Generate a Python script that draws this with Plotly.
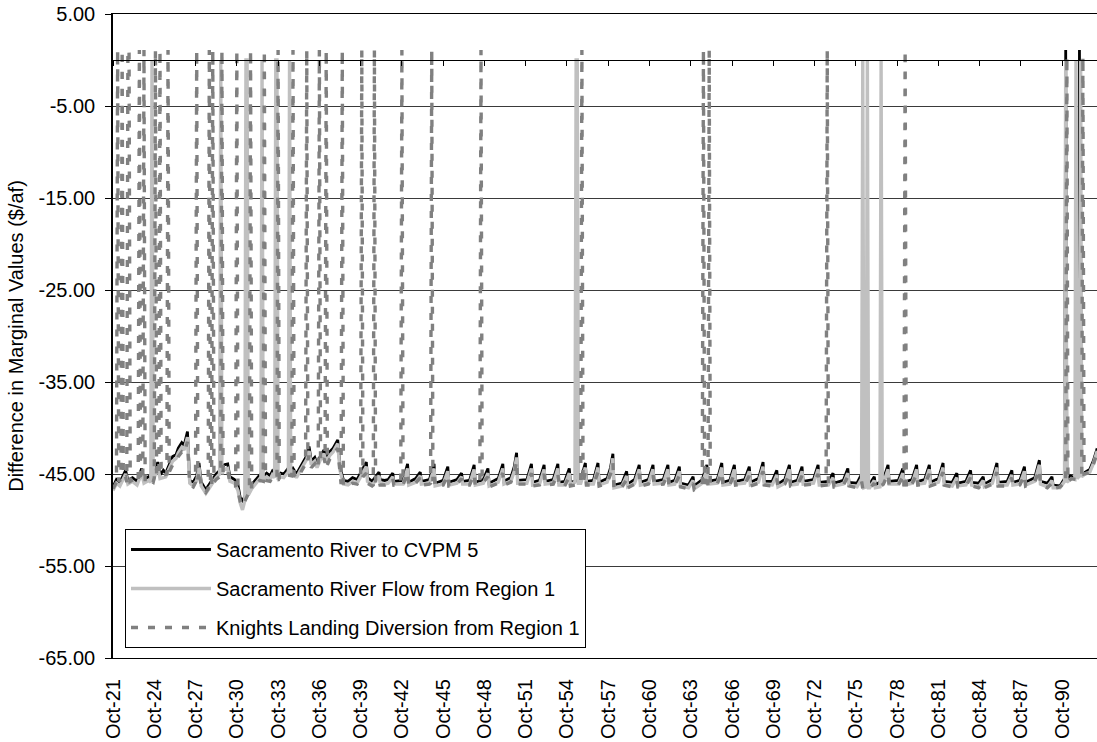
import plotly.graph_objects as go

# ---------------- data (month index from Oct-1921, value in $/af) ----------------
SERIES_NAMES = [
    "Sacramento River to CVPM 5",
    "Sacramento River Flow from Region 1",
    "Knights Landing Diversion from Region 1",
]

BLACK = [
    (0, -46.4), (3, -45.6), (6, -45.9), (9, -45.2), (11, -44.6), (13, -45.7), (17, -45.4), (21, -45.8),
    (24, -44.9), (25, -44.4), (27, -45.6), (31, -45.3), (35, -45.7), (37, -44.8), (39, -43.7), (41, -45.1),
    (44, -44.6), (46, -44.9), (49, -44.0), (52, -43.1), (55, -42.9), (57, -42.2), (60, -41.6), (62, -41.9),
    (65, -40.4), (67, -45.7), (70, -45.9), (73, -45.2), (75, -43.8), (77, -45.9), (81, -46.7), (84, -46.1),
    (87, -45.5), (90, -45.0), (94, -44.5), (97, -44.0), (100, -43.9), (102, -45.3), (106, -45.6), (109, -46.2),
    (111, -47.6), (113, -47.9), (116, -47.2), (119, -46.5), (122, -46.0), (125, -45.6), (128, -45.1),
    (131, -45.3), (134, -44.9), (137, -45.2), (139, -44.7), (142, -45.2), (146, -44.9), (149, -45.0),
    (152, -44.5), (155, -44.8), (157, -44.4), (160, -45.0), (163, -44.3), (166, -43.6), (169, -43.0),
    (171, -42.0), (173, -43.6), (176, -43.2), (178, -43.9), (181, -43.0), (184, -42.4), (186, -43.3),
    (189, -42.6), (192, -42.2), (194, -41.7), (196, -41.3), (198, -44.2), (201, -45.7), (205, -45.8),
    (209, -45.4), (213, -45.6), (217, -44.6), (219, -44.2), (221, -43.7), (222, -45.4), (226, -45.8),
    (229, -45.3), (232, -44.8), (233, -45.6), (237, -45.7),
    (240, -45.6), (244, -44.9), (245, -45.8), (253, -45.7), (257, -43.9), (258, -45.9),
    (264, -45.5), (268, -44.8), (269, -45.8), (276, -45.6), (280, -43.9), (281, -46.0),
    (288, -45.7), (292, -44.2), (293, -45.9), (300, -45.6), (304, -44.9), (305, -45.8),
    (311, -45.7), (315, -44.0), (316, -45.9), (323, -45.6), (327, -44.4), (328, -46.0),
    (336, -45.5), (340, -43.9), (341, -45.8), (347, -45.4), (350, -44.2), (352, -42.7), (353, -45.7),
    (361, -45.6), (365, -43.9), (366, -45.9), (372, -45.7), (376, -44.0), (377, -45.8),
    (384, -45.6), (388, -43.9), (389, -45.9), (394, -45.8), (398, -44.4), (399, -45.9),
    (408, -45.6), (412, -43.8), (413, -45.8), (419, -45.7), (423, -43.8), (424, -45.9),
    (431, -45.5), (434, -44.3), (436, -42.8), (437, -46.2), (444, -46.0), (448, -44.7), (449, -46.1),
    (455, -45.6), (459, -44.0), (460, -45.9), (467, -45.6), (471, -44.0), (472, -45.8),
    (480, -45.6), (484, -44.0), (485, -45.9), (490, -45.7), (494, -44.2), (495, -46.0),
    (502, -46.2), (506, -45.3), (507, -46.3), (514, -45.6), (518, -44.0), (519, -45.8),
    (527, -45.6), (531, -43.8), (532, -45.9), (538, -45.7), (542, -44.0), (543, -45.8),
    (551, -45.6), (555, -44.2), (556, -45.9), (563, -45.5), (567, -43.7), (568, -45.8),
    (575, -45.8), (579, -44.6), (580, -46.1), (586, -45.6), (590, -44.0), (591, -45.9),
    (597, -45.7), (601, -44.2), (602, -45.8), (611, -45.6), (615, -44.0), (616, -45.9),
    (624, -45.8), (628, -44.9), (629, -46.0), (637, -45.7), (641, -44.4), (642, -45.9),
    (649, -46.0), (653, -45.0), (654, -46.3), (660, -46.1), (664, -45.3), (665, -46.2),
    (672, -45.6), (676, -44.0), (677, -45.8), (685, -45.7), (689, -44.4), (690, -45.9),
    (697, -45.6), (701, -44.0), (702, -45.8), (708, -45.6), (712, -44.0), (713, -45.9),
    (720, -45.5), (724, -43.8), (725, -45.8), (732, -45.9), (736, -44.9), (737, -46.0),
    (744, -45.8), (748, -44.6), (749, -45.9), (755, -46.0), (759, -45.3), (760, -46.1),
    (767, -45.6), (771, -43.8), (772, -45.9), (780, -45.8), (784, -44.6), (785, -45.9),
    (791, -45.7), (795, -44.2), (796, -45.9), (804, -45.4), (808, -43.5), (809, -45.8),
    (815, -46.0), (819, -45.3), (820, -46.2), (826, -46.3), (830, -45.5), (831, 1.1), (832, -45.6),
    (835, -45.2), (839, -45.4), (842, -45.0), (843, 1.1), (844, -45.2), (848, -44.8),
    (852, -44.5), (855, -43.6), (858, -42.4), (862, -42.8),
]

GRAY = [
    (0, -46.8), (3, -46.0), (6, -46.3), (9, -45.6), (11, -45.0), (13, -46.1), (17, -45.8), (21, -46.2),
    (25, -44.9), (27, -46.0), (31, -45.7), (33, -45.9), (34, 0.0), (35, -45.8), (39, -44.2), (41, -45.5),
    (46, -45.3), (49, -44.4), (52, -43.6), (55, -43.3), (57, -42.7), (60, -42.1), (62, -42.4), (65, -41.0),
    (67, -46.0), (70, -46.3), (73, -45.7), (75, -44.3), (77, -46.3), (81, -47.1), (84, -46.5), (87, -45.9),
    (90, -45.4), (93, -45.0), (94, 0.0), (95, -45.0), (97, -44.5), (100, -44.4), (102, -45.8), (106, -46.0),
    (109, -46.8), (111, -48.2), (113, -48.9), (115, -47.9), (116, 0.0), (117, 0.0), (118, -47.3),
    (121, -46.6), (125, -46.0), (128, -45.5), (129, -45.6), (130, 0.0), (131, -45.7), (134, -45.3),
    (137, -45.6), (139, -45.1), (141, -45.4), (142, 0.0), (143, 0.0), (144, -45.4), (146, -45.3),
    (149, -45.4), (152, -44.9), (153, -45.0), (154, 0.0), (155, -45.2), (157, -44.8), (160, -45.4),
    (163, -44.7), (166, -44.0), (169, -43.4), (171, -42.5), (173, -44.0), (176, -43.6), (178, -44.3),
    (181, -43.4), (184, -42.8), (186, -43.7), (189, -43.0), (192, -42.6), (194, -42.1), (196, -41.7),
    (198, -44.6), (201, -46.1), (205, -46.2), (209, -45.8), (213, -46.0), (217, -45.0), (219, -44.6),
    (221, -44.2), (222, -45.8), (226, -46.2), (229, -45.7), (232, -45.2), (233, -46.0), (237, -46.1),
    (240, -46.0), (244, -45.3), (245, -46.1), (253, -46.1), (257, -44.4), (258, -46.2),
    (264, -45.9), (268, -45.2), (269, -46.1), (276, -46.0), (280, -44.4), (281, -46.3),
    (288, -46.1), (292, -44.7), (293, -46.2), (300, -46.0), (304, -45.3), (305, -46.1),
    (311, -46.1), (315, -44.5), (316, -46.2), (323, -46.0), (327, -44.9), (328, -46.3),
    (336, -45.9), (340, -44.4), (341, -46.1), (347, -45.8), (350, -44.7), (352, -43.2), (353, -46.0),
    (361, -46.0), (365, -44.4), (366, -46.2), (372, -46.1), (376, -44.5), (377, -46.1),
    (384, -46.0), (388, -44.4), (389, -46.2), (394, -46.2), (398, -44.9), (399, -46.2),
    (403, -45.9), (404, 0.0), (405, 0.0), (406, -46.0),
    (408, -46.0), (412, -44.3), (413, -46.1), (419, -46.1), (423, -44.3), (424, -46.2),
    (431, -45.9), (434, -44.8), (436, -43.3), (437, -46.5), (444, -46.3), (448, -45.2), (449, -46.4),
    (455, -46.0), (459, -44.5), (460, -46.2), (467, -46.0), (471, -44.5), (472, -46.1),
    (480, -46.0), (484, -44.5), (485, -46.2), (490, -46.1), (494, -44.7), (495, -46.3),
    (502, -46.5), (506, -45.7), (507, -46.6), (514, -46.0), (518, -44.5), (519, -46.1),
    (527, -46.0), (531, -44.3), (532, -46.2), (538, -46.1), (542, -44.5), (543, -46.1),
    (551, -46.0), (555, -44.7), (556, -46.2), (563, -45.9), (567, -44.2), (568, -46.1),
    (575, -46.2), (579, -45.1), (580, -46.4), (586, -46.0), (590, -44.5), (591, -46.2),
    (597, -46.1), (601, -44.7), (602, -46.1), (611, -46.0), (615, -44.5), (616, -46.2),
    (624, -46.2), (628, -45.4), (629, -46.3), (637, -46.1), (641, -44.9), (642, -46.2),
    (649, -46.4), (653, -45.5), (654, 0.0), (655, -46.5), (657, -46.4), (658, 0.0), (659, -46.5),
    (660, -46.5), (664, -45.7), (665, -46.5), (669, -46.4), (670, 0.0), (671, -46.3),
    (672, -46.0), (676, -44.5), (677, -46.1), (685, -46.1), (689, -44.9), (690, -46.2),
    (697, -46.0), (701, -44.5), (702, -46.1), (708, -46.0), (712, -44.5), (713, -46.2),
    (720, -45.9), (724, -44.3), (725, -46.1), (732, -46.3), (736, -45.4), (737, -46.3),
    (744, -46.2), (748, -45.1), (749, -46.2), (755, -46.4), (759, -45.7), (760, -46.4),
    (767, -46.0), (771, -44.3), (772, -46.2), (780, -46.2), (784, -45.1), (785, -46.2),
    (791, -46.1), (795, -44.7), (796, -46.2), (804, -45.8), (808, -44.0), (809, -46.1),
    (815, -46.4), (819, -45.7), (820, -46.5), (826, -46.5), (830, -45.8), (831, 0.0), (832, -45.9),
    (836, -45.5), (839, -45.6), (840, 0.0), (841, -45.5), (843, -45.2), (844, 0.0), (845, -45.3),
    (848, -45.0), (852, -44.8), (855, -43.9), (858, -42.7), (862, -43.0),
]

DASHED = [
    (0, -46.6), (3, -45.9), (4, 1.1), (5, -45.8), (7, -45.6), (8, 1.1), (9, -45.4), (11, -45.3),
    (12, -45.9), (13, 1.1), (14, 1.1), (15, -45.8), (18, -45.6), (21, -46.0), (22, -45.7), (23, 1.1),
    (24, -45.3), (26, -45.8), (27, 1.1), (28, -45.9), (31, -45.6), (35, -45.9), (36, -45.4), (37, 1.1),
    (38, -45.0), (40, -45.3), (41, 1.1), (42, -45.2), (44, -45.1), (47, -45.0), (48, 1.1), (49, -44.8),
    (52, -44.0), (55, -43.7), (57, -43.1), (60, -42.6), (62, -42.8), (65, -41.5), (67, -46.2),
    (70, -46.4), (72, -45.9), (73, 1.1), (74, -45.6), (75, -44.6), (77, -46.4), (81, -47.0), (83, -46.6),
    (84, 1.1), (85, -46.4), (86, -46.2), (87, 1.1), (88, -45.9), (90, -45.6), (94, -45.2), (95, 1.1),
    (96, -45.0), (98, -44.7), (100, -44.6), (102, -46.0), (106, -46.2), (107, -46.4), (108, 1.1),
    (109, -46.8), (111, -48.0), (113, -48.5), (116, -47.6), (119, -46.9), (120, 1.1), (121, -46.6),
    (125, -46.1), (128, -45.7), (131, -45.8), (132, 1.1), (133, -45.7), (137, -45.8), (139, -45.4),
    (143, -45.6), (144, 1.1), (145, -45.6), (149, -45.5), (152, -45.1), (156, -45.2), (157, 1.1),
    (158, -45.1), (161, -45.5), (163, -45.0), (166, -44.4), (168, -43.9), (169, 1.1), (170, -43.5),
    (171, -43.0), (173, -44.3), (176, -43.9), (178, -44.5), (179, -44.0), (180, 1.1), (181, -43.8),
    (184, -43.3), (185, -43.8), (186, 1.1), (187, -44.0), (189, -43.4), (192, -43.0), (194, -42.5),
    (196, -42.2), (198, -45.0), (199, -46.1), (200, 1.1), (201, -46.3), (205, -46.3), (209, -46.0),
    (213, -46.1), (216, -45.6), (217, 1.1), (218, -45.3), (221, -44.9), (222, -46.0), (226, -46.3),
    (227, -46.2), (228, 1.1), (229, -46.0), (232, -45.6), (233, -46.2), (237, -46.2),
    (240, -46.1), (244, -45.5), (245, -46.2), (251, -46.1), (252, 1.1), (253, -46.2), (257, -44.8),
    (258, -46.3), (264, -46.0), (268, -45.4), (269, -46.2), (276, -46.1), (277, -46.0), (278, 1.1),
    (279, -45.8), (280, -44.9), (281, -46.4), (288, -46.2), (292, -45.1), (293, -46.3),
    (300, -46.1), (304, -45.5), (305, -46.2), (311, -46.2), (315, -45.0), (316, -46.3),
    (320, -46.1), (321, 1.1), (322, -46.0), (327, -45.3), (328, -46.4),
    (336, -46.0), (340, -44.9), (341, -46.2), (347, -45.9), (350, -45.0), (352, -43.6), (353, -46.1),
    (361, -46.1), (365, -44.9), (366, -46.3), (372, -46.2), (376, -45.0), (377, -46.2),
    (384, -46.1), (388, -44.9), (389, -46.3), (394, -46.3), (398, -45.3), (399, -46.3),
    (408, -46.1), (409, 1.1), (410, -46.0), (412, -44.8), (413, -46.2), (419, -46.2), (423, -44.8),
    (424, -46.3), (431, -46.0), (434, -45.0), (436, -43.8), (437, -46.6), (444, -46.4), (448, -45.6),
    (449, -46.5), (455, -46.1), (459, -45.0), (460, -46.3), (467, -46.1), (471, -45.0), (472, -46.2),
    (480, -46.1), (484, -45.0), (485, -46.3), (490, -46.2), (494, -45.2), (495, -46.4),
    (502, -46.6), (506, -46.0), (507, -46.7), (514, -46.2), (515, 1.1), (516, -46.1), (518, -45.0),
    (519, -46.2), (520, 1.1), (521, -46.2), (527, -46.1), (531, -44.8), (532, -46.3),
    (538, -46.2), (542, -45.0), (543, -46.2), (551, -46.1), (555, -45.2), (556, -46.3),
    (563, -46.0), (567, -44.7), (568, -46.2), (575, -46.3), (579, -45.5), (580, -46.5),
    (586, -46.1), (590, -45.0), (591, -46.3), (597, -46.2), (601, -45.2), (602, -46.2),
    (611, -46.1), (615, -45.0), (616, -46.3), (622, -46.2), (623, 1.1), (624, -46.3), (628, -45.7),
    (629, -46.4), (637, -46.2), (641, -45.3), (642, -46.3), (649, -46.5), (653, -45.8), (654, -46.6),
    (660, -46.6), (664, -46.0), (665, -46.6), (672, -46.1), (676, -45.0), (677, -46.2),
    (685, -46.2), (689, -45.3), (690, -46.3), (691, 1.1), (692, -46.6),
    (697, -46.1), (701, -45.0), (702, -46.2), (708, -46.1), (712, -45.0), (713, -46.3),
    (720, -46.0), (724, -44.8), (725, -46.2), (732, -46.4), (736, -45.7), (737, -46.4),
    (744, -46.3), (748, -45.4), (749, -46.3), (755, -46.5), (759, -46.0), (760, -46.5),
    (767, -46.1), (771, -44.8), (772, -46.3), (780, -46.3), (784, -45.4), (785, -46.3),
    (791, -46.2), (795, -45.1), (796, -46.3), (804, -45.9), (808, -44.5), (809, -46.2),
    (815, -46.5), (819, -46.0), (820, -46.6), (826, -46.4), (830, -45.9), (831, -46.0), (832, 0.4),
    (833, -45.9), (836, -45.5), (840, -45.6), (844, -45.4), (845, -45.3), (846, 0.4), (847, -45.0),
    (850, -44.9), (852, -44.8), (855, -44.0), (858, -42.9), (862, -43.2),
]

Y_TICKS = [5, -5, -15, -25, -35, -45, -55, -65]
Y_LABELS = ["5.00", "-5.00", "-15.00", "-25.00", "-35.00", "-45.00", "-55.00", "-65.00"]
X_START = "1921-10-01"
X_END = "1993-04-11"


def month_to_date(m):
    y = 1921 + (9 + m) // 12
    mo = (9 + m) % 12 + 1
    return f"{y}-{mo:02d}-01"


def split(series):
    return [month_to_date(m) for m, _ in series], [v for _, v in series]


FONT = "Liberation Sans, Arial, sans-serif"
styles = [
    dict(color="#000000", width=2.8),
    dict(color="#C0C0C0", width=3.4),
    dict(color="#808080", width=3.4, dash="7px,10px"),
]

fig = go.Figure()
for i, (name, data) in enumerate(zip(SERIES_NAMES, [BLACK, GRAY, DASHED])):
    xs, ys = split(data)
    fig.add_trace(go.Scatter(x=xs, y=ys, mode="lines", name=name, line=styles[i],
                             legendgroup=f"g{i}"))

# helper trace for the axis drawn at y = 0
fig.add_trace(go.Scatter(x=[X_START], y=[None], xaxis="x2", mode="lines",
                         showlegend=False, hoverinfo="skip"))

fig.update_layout(
    width=1097, height=742,
    margin=dict(l=113, r=0, t=14, b=84),
    paper_bgcolor="white", plot_bgcolor="white",
    font=dict(family=FONT, size=20, color="black"),
    showlegend=True,
    legend=dict(
        x=0.0122, y=0.2003, xanchor="left", yanchor="top",
        bordercolor="black", borderwidth=1, bgcolor="white",
        font=dict(family=FONT, size=20, color="black"),
        traceorder="grouped", tracegroupgap=10, itemwidth=80,
    ),
    xaxis=dict(
        type="date", range=[X_START, X_END],
        tick0=X_START, dtick="M36", tickformat="%b-%y", tickangle=-90,
        showgrid=False, showline=True, linecolor="black", linewidth=1, mirror=True,
        ticks="", ticklabelstandoff=12,
        tickfont=dict(family=FONT, size=20, color="black"),
        zeroline=False,
    ),
    xaxis2=dict(
        type="date", matches="x", overlaying="x", anchor="free", position=65 / 70,
        tick0=X_START, dtick="M36", showticklabels=False,
        ticks="outside", ticklen=5, tickcolor="black", tickwidth=1,
        showline=True, linecolor="black", linewidth=1, showgrid=False, zeroline=False,
    ),
    yaxis=dict(
        range=[-65, 5], tickvals=Y_TICKS, ticktext=Y_LABELS,
        showgrid=True, gridcolor="#3a3a3a", gridwidth=1,
        showline=True, linecolor="black", linewidth=1.5,
        ticks="outside", ticklen=6, tickcolor="black", ticklabelstandoff=6,
        zeroline=False,
        tickfont=dict(family=FONT, size=20, color="black"),
        title=dict(text="Difference in Marginal Values ($/af)", standoff=10,
                   font=dict(family=FONT, size=20, color="black")),
    ),
)

fig.write_html("out.html")
